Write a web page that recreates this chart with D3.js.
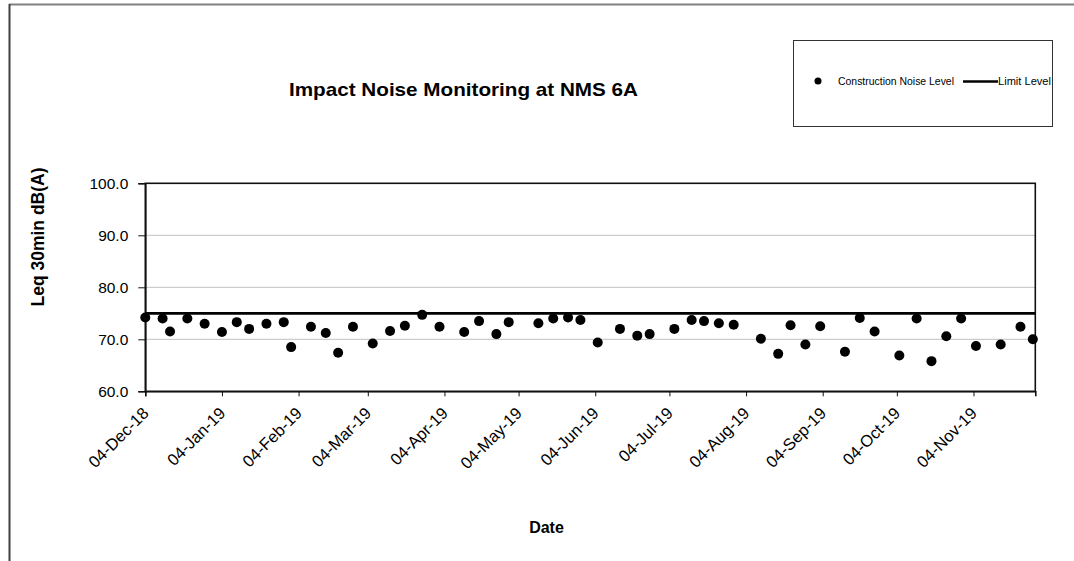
<!DOCTYPE html>
<html>
<head>
<meta charset="utf-8">
<script src="https://cdn.jsdelivr.net/npm/d3@7/dist/d3.min.js"></script>
<style>
  html, body { margin: 0; padding: 0; background: #fff; }
  svg { display: block; font-family: "Liberation Sans", Arial, sans-serif; }
</style>
</head>
<body>
<svg id="chart" width="1074" height="561"></svg>
<script>
// Monitoring dates and measured Leq 30min levels, dB(A)
const sampleDates = [
  "2018-12-04", "2018-12-11", "2018-12-14", "2018-12-21", "2018-12-28",
  "2019-01-04", "2019-01-10", "2019-01-15", "2019-01-22", "2019-01-29",
  "2019-02-01", "2019-02-09", "2019-02-15", "2019-02-20", "2019-02-26",
  "2019-03-06", "2019-03-13", "2019-03-19", "2019-03-26", "2019-04-02",
  "2019-04-12", "2019-04-18", "2019-04-25", "2019-04-30", "2019-05-12",
  "2019-05-18", "2019-05-24", "2019-05-29", "2019-06-05", "2019-06-14",
  "2019-06-21", "2019-06-26", "2019-07-06", "2019-07-13", "2019-07-18",
  "2019-07-24", "2019-07-30", "2019-08-10", "2019-08-17", "2019-08-22",
  "2019-08-28", "2019-09-03", "2019-09-13", "2019-09-19", "2019-09-25",
  "2019-10-05", "2019-10-12", "2019-10-18", "2019-10-24", "2019-10-30",
  "2019-11-05", "2019-11-15", "2019-11-23", "2019-11-28"
];
const noiseLevels = [
  74.2, 74.0, 71.5, 74.0, 73.0,
  71.4, 73.3, 72.0, 73.0, 73.3,
  68.5, 72.4, 71.2, 67.4, 72.4,
  69.2, 71.6, 72.6, 74.7, 72.4,
  71.4, 73.5, 71.0, 73.3, 73.1,
  74.0, 74.2, 73.7, 69.4, 72.0,
  70.7, 71.0, 72.0, 73.7, 73.5,
  73.1, 72.8, 70.1, 67.2, 72.7,
  69.0, 72.5, 67.6, 74.1, 71.5,
  66.9, 74.0, 65.8, 70.6, 74.0,
  68.7, 69.0, 72.4, 70.0
];
const limitLevel = 75;

// Axis settings
const axisStart = "2018-12-04";
const axisEnd = "2019-11-29";
const monthTicks = [
  "2018-12-04", "2019-01-04", "2019-02-04", "2019-03-04", "2019-04-04", "2019-05-04",
  "2019-06-04", "2019-07-04", "2019-08-04", "2019-09-04", "2019-10-04", "2019-11-04"
];
const yTicks = [60, 70, 80, 90, 100];
const gridValues = [70, 80, 90];

const titleText = "Impact Noise Monitoring at NMS 6A";
const yLabel = "Leq 30min dB(A)";
const xLabel = "Date";
const seriesNames = ["Construction Noise Level", "Limit Level"];

const parse = d3.utcParse("%Y-%m-%d");
const fmt = d3.utcFormat("%d-%b-%y");
const FONT = "Liberation Sans, Arial, sans-serif";

const svg = d3.select("#chart");
const margin = { left: 145.3, top: 183.3, right: 1035.3, bottom: 391.3 };

const x = d3.scaleUtc()
  .domain([parse(axisStart), parse(axisEnd)])
  .range([margin.left, margin.right]);
const y = d3.scaleLinear()
  .domain([60, 100])
  .range([margin.bottom, margin.top]);

// Outer chart frame
svg.append("line").attr("x1", 9).attr("x2", 1074).attr("y1", 4.5).attr("y2", 4.5)
  .attr("stroke", "#808080").attr("stroke-width", 2);
svg.append("line").attr("x1", 9.5).attr("x2", 9.5).attr("y1", 4).attr("y2", 561)
  .attr("stroke", "#404040").attr("stroke-width", 2);

// Horizontal gridlines
svg.append("g").selectAll("line").data(gridValues).join("line")
  .attr("x1", margin.left).attr("x2", margin.right)
  .attr("y1", d => y(d)).attr("y2", d => y(d))
  .attr("stroke", "#c0c0c0").attr("stroke-width", 1);

// Plot area border
svg.append("rect")
  .attr("x", margin.left).attr("y", margin.top)
  .attr("width", margin.right - margin.left).attr("height", margin.bottom - margin.top)
  .attr("fill", "none").attr("stroke", "#111").attr("stroke-width", 1.6);

// Y axis
const yAxis = svg.append("g")
  .attr("transform", `translate(${margin.left},0)`)
  .call(d3.axisLeft(y).tickValues(yTicks).tickFormat(d3.format(".1f")).tickSize(7).tickPadding(10));
yAxis.select(".domain").attr("stroke", "#111").attr("stroke-width", 1.6);
yAxis.selectAll(".tick line").attr("stroke", "#111");
yAxis.selectAll("text").attr("font-size", 15.5).attr("fill", "#000").attr("font-family", FONT);

// X axis
const xAxis = svg.append("g")
  .attr("transform", `translate(0,${margin.bottom})`)
  .call(d3.axisBottom(x).tickValues(monthTicks.map(parse)).tickFormat(fmt).tickSize(5));
xAxis.select(".domain").attr("stroke", "#111").attr("stroke-width", 1.6);
xAxis.selectAll(".tick line").attr("stroke", "#111");
xAxis.selectAll("text")
  .attr("font-size", 16.5).attr("fill", "#000").attr("font-family", FONT)
  .attr("text-anchor", "end")
  .attr("dy", null)
  .attr("y", 0)
  .attr("transform", "translate(4,23) rotate(-45)");

// Limit line
svg.append("line")
  .attr("x1", margin.left).attr("x2", margin.right)
  .attr("y1", y(limitLevel)).attr("y2", y(limitLevel))
  .attr("stroke", "#000").attr("stroke-width", 2.8);

// Measured points
const points = sampleDates.map((d, i) => ({ date: parse(d), value: noiseLevels[i] }));
svg.append("g").selectAll("circle").data(points).join("circle")
  .attr("cx", d => x(d.date)).attr("cy", d => y(d.value))
  .attr("r", 5).attr("fill", "#000");

// Title
svg.append("text")
  .attr("x", 463.5).attr("y", 95.5)
  .attr("text-anchor", "middle")
  .attr("font-size", 18.5).attr("font-weight", "bold")
  .attr("textLength", 349).attr("lengthAdjust", "spacingAndGlyphs")
  .text(titleText);

// Axis titles
svg.append("text")
  .attr("transform", "translate(43.5,237) rotate(-90)")
  .attr("text-anchor", "middle")
  .attr("font-size", 17.5).attr("font-weight", "bold")
  .text(yLabel);
svg.append("text")
  .attr("x", 546.5).attr("y", 533)
  .attr("text-anchor", "middle")
  .attr("font-size", 16).attr("font-weight", "bold")
  .text(xLabel);

// Legend
const legend = svg.append("g");
legend.append("rect")
  .attr("x", 793.5).attr("y", 40.5).attr("width", 259).attr("height", 86)
  .attr("fill", "#fff").attr("stroke", "#333").attr("stroke-width", 1);
legend.append("circle").attr("cx", 818).attr("cy", 81).attr("r", 3.5).attr("fill", "#000");
legend.append("text").attr("x", 838).attr("y", 85).attr("font-size", 10.6)
  .attr("textLength", 116).attr("lengthAdjust", "spacingAndGlyphs").text(seriesNames[0]);
legend.append("line").attr("x1", 963).attr("x2", 998).attr("y1", 81.5).attr("y2", 81.5)
  .attr("stroke", "#000").attr("stroke-width", 2.4);
legend.append("text").attr("x", 998).attr("y", 85).attr("font-size", 10.6)
  .attr("textLength", 53).attr("lengthAdjust", "spacingAndGlyphs").text(seriesNames[1]);
</script>
</body>
</html>
